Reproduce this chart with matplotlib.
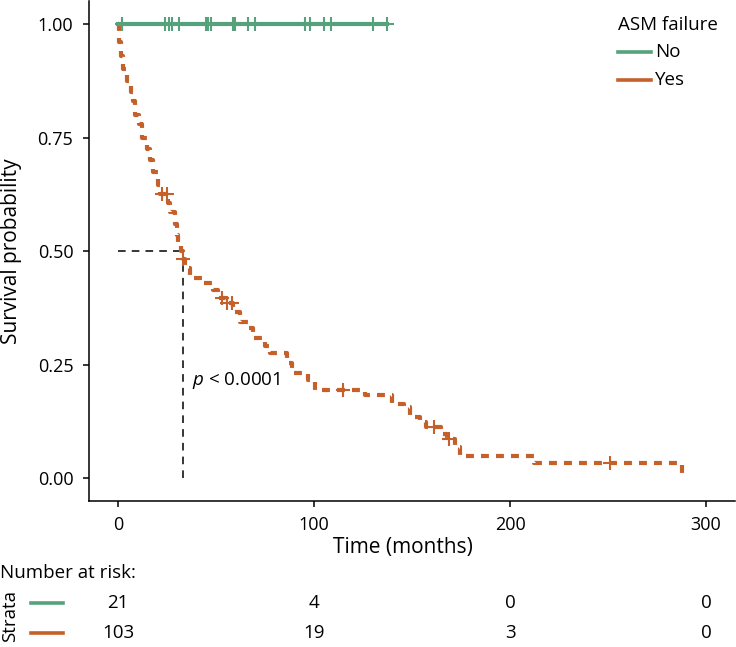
import numpy as np
import matplotlib.pyplot as plt
from matplotlib.lines import Line2D

plt.rcParams['font.family'] = ['Open Sans', 'DejaVu Sans']
plt.rcParams['mathtext.fontset'] = 'custom'
plt.rcParams['mathtext.it'] = 'Open Sans:italic'
plt.rcParams['mathtext.rm'] = 'Open Sans'

green = '#55A27C'
orange = '#C5602B'

# ASM failure = No: no events, censored only
no_censor = [2.2, 24, 26, 27.4, 31.1, 44.9, 46.1, 47.3, 58.5, 59.9,
             66.5, 69.9, 95.4, 98, 105.1, 108.8, 130.3, 137]
no_end = 137

# ASM failure = Yes: step times and survival after each step
yes_time = [0, 0.7, 1.4, 2.7, 4.4, 6.5, 7.8, 8.7, 10.9, 12.1, 15.0, 16.3,
            17.7, 20.6, 21.5, 25.7, 26.5, 29.0, 30.3, 30.8, 32.0, 33.0,
            34.0, 36.5, 43.4, 48.6, 51.0, 55.0, 58.8, 62.2, 66.3, 69.0,
            75.0, 77.5, 86.0, 89.0, 97.0, 100.5, 126.0, 140.0, 146.0, 149.0,
            154.0, 157.0, 165.0, 168.0, 172.0, 174.5, 212.0, 288.0]
yes_surv = [1.0, 0.96, 0.93, 0.90, 0.875, 0.85, 0.83, 0.80, 0.78, 0.75,
            0.725, 0.70, 0.675, 0.645, 0.626, 0.606, 0.586, 0.56, 0.535,
            0.52, 0.50, 0.482, 0.463, 0.44, 0.43, 0.414, 0.397, 0.385,
            0.366, 0.344, 0.330, 0.308, 0.29, 0.275, 0.253, 0.231, 0.216,
            0.194, 0.183, 0.164, 0.157, 0.135, 0.124, 0.113, 0.098, 0.085,
            0.069, 0.049, 0.034, 0.0]
yes_censor = [22.3, 24.9, 33.3, 53.0, 55.7, 58.0, 115, 161, 168.7, 251]

median_time = 33.2
risk_times = [0, 100, 200, 300]
risk_no = [21, 4, 0, 0]
risk_yes = [103, 19, 3, 0]

W, H = 736, 647
fig = plt.figure(figsize=(W / 100, H / 100), dpi=100)


def fx(px):
    return px / W


def fy(py):
    return 1 - py / H


ax = fig.add_axes([fx(88.6), fy(500.7), (735.4 - 88.6) / W, (500.7 - 1.3) / H])

# median lines
ax.plot([0, median_time], [0.5, 0.5], color='black', lw=1.1, dashes=(5, 4))
ax.plot([median_time, median_time], [0, 0.5], color='black', lw=1.1, dashes=(5, 4))

ax.step(yes_time, yes_surv, where='post', color=orange, lw=3.0,
        linestyle=(0, (1.9, 1.7)))
idx = np.searchsorted(yes_time, yes_censor, side='right') - 1
ax.plot(yes_censor, np.array(yes_surv)[idx], '+', color=orange, ms=10, mew=1.5)

ax.plot([0, no_end], [1, 1], color=green, lw=3.0)
ax.plot(no_censor, np.ones(len(no_censor)), '+', color=green, ms=10, mew=1.5)

ax.text(37.5, 0.214, r'$\it{p}$ < 0.0001', fontsize=13.5, va='center', ha='left')

ax.set_xlim(-15, 315)
ax.set_ylim(-0.05, 1.05)
ax.set_xticks([0, 100, 200, 300])
ax.set_yticks([0, 0.25, 0.5, 0.75, 1.0])
ax.set_yticklabels(['0.00', '0.25', '0.50', '0.75', '1.00'])
for s in ['top', 'right']:
    ax.spines[s].set_visible(False)
for s in ['left', 'bottom']:
    ax.spines[s].set_linewidth(1.1)
ax.tick_params(labelsize=13, length=4, width=1.1, pad=7, colors='black')

fig.text(fx(403), fy(548), 'Time (months)', fontsize=15, ha='center', va='center')
fig.text(fx(12), fy(251), 'Survival probability', fontsize=15, ha='center',
         va='center', rotation=90)

# legend
fig.text(fx(618), fy(25), 'ASM failure', fontsize=13.5, ha='left', va='center')
for yy, lab, col in [(52, 'No', green), (80, 'Yes', orange)]:
    fig.add_artist(Line2D([fx(618), fx(651)], [fy(yy), fy(yy)], color=col, lw=2.6))
    fig.text(fx(655), fy(yy), lab, fontsize=13.5, ha='left', va='center')

# risk table
tab = fig.add_axes([fx(88.6), fy(645), (735.4 - 88.6) / W, (645 - 590) / H])
tab.set_xlim(-15, 315)
tab.set_ylim(645, 590)
tab.axis('off')
for t, a, b in zip(risk_times, risk_no, risk_yes):
    tab.text(t, 603, str(a), fontsize=13.5, ha='center', va='center')
    tab.text(t, 633, str(b), fontsize=13.5, ha='center', va='center')

fig.text(fx(0), fy(573), 'Number at risk:', fontsize=13.5, ha='left', va='center')
fig.text(fx(10), fy(616), 'Strata', fontsize=13.5, ha='center', va='center', rotation=90)
fig.add_artist(Line2D([fx(31), fx(63)], [fy(603), fy(603)], color=green, lw=2.6))
fig.add_artist(Line2D([fx(31), fx(63)], [fy(633), fy(633)], color=orange, lw=2.6))

fig.savefig('out.png', dpi=100)
